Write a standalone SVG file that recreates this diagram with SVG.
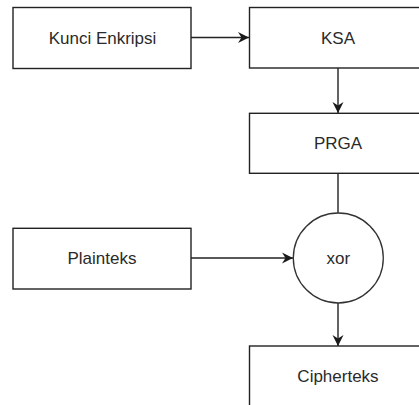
<svg xmlns="http://www.w3.org/2000/svg" width="419" height="405" viewBox="0 0 419 405">
<style>
.box{fill:#ffffff;stroke:#222222;stroke-width:1.4}
.circ{fill:#ffffff;stroke:#333333;stroke-width:1.3}
.lbl{font-family:"Liberation Sans",Arial,sans-serif;font-size:17px;fill:#2a2a2a;text-anchor:middle}
.edge{fill:none;stroke:#222222;stroke-width:1.4}
</style>
<defs>
<marker id="arr" markerUnits="userSpaceOnUse" markerWidth="13" markerHeight="13" viewBox="0 0 13 13" refX="12" refY="6.5" orient="auto">
<path d="M1,1 L12,6.5 L1,12 L4.5,6.5 z" fill="#1a1a1a"/>
</marker>
</defs>
<rect width="419" height="405" fill="#ffffff"/>
<g id="connectors">
<line class="edge" x1="191" y1="37.5" x2="249" y2="37.5" marker-end="url(#arr)"/>
<line class="edge" x1="338" y1="68" x2="338" y2="113" marker-end="url(#arr)"/>
<line class="edge" x1="338" y1="173" x2="338" y2="213"/>
<line class="edge" x1="191" y1="258" x2="293" y2="258" marker-end="url(#arr)"/>
<line class="edge" x1="338" y1="303" x2="338" y2="346" marker-end="url(#arr)"/>
</g>
<g id="kunci">
<rect class="box" x="13" y="7.5" width="178" height="61"/>
<text class="lbl" x="102.5" y="43.5">Kunci Enkripsi</text>
</g>
<g id="ksa">
<rect class="box" x="249.5" y="7.5" width="178" height="60.5"/>
<text class="lbl" x="338" y="43.5">KSA</text>
</g>
<g id="prga">
<rect class="box" x="249.5" y="113.3" width="178" height="60"/>
<text class="lbl" x="338" y="149.3">PRGA</text>
</g>
<g id="plainteks">
<rect class="box" x="13" y="228.3" width="178" height="60.7"/>
<text class="lbl" x="102" y="263.5">Plainteks</text>
</g>
<g id="xor">
<circle class="circ" cx="338.3" cy="258" r="45"/>
<text class="lbl" x="338.3" y="264">xor</text>
</g>
<g id="cipherteks">
<rect class="box" x="249.5" y="346" width="178" height="62"/>
<text class="lbl" x="338" y="381.5">Cipherteks</text>
</g>
</svg>
